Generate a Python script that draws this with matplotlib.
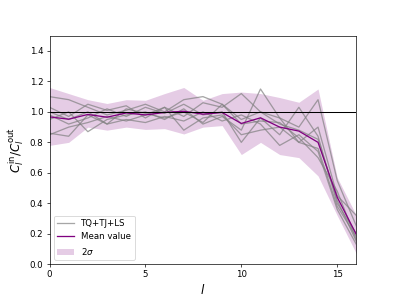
import matplotlib
matplotlib.use("Agg")
import matplotlib.pyplot as plt
import numpy as np

# multipoles
ell = np.arange(17)

# individual realisations (TQ+TJ+LS)
runs = [
    [1.10, 1.08, 1.03, 0.98, 1.01, 1.05, 1.00, 1.08, 1.10, 1.05, 0.95, 1.00, 0.92, 0.88, 0.82, 0.42, 0.15],
    [1.03, 0.97, 1.05, 1.01, 1.04, 0.96, 1.03, 0.97, 1.06, 1.03, 1.12, 1.00, 0.96, 0.90, 1.08, 0.55, 0.25],
    [0.98, 0.92, 0.96, 1.02, 0.97, 1.03, 0.99, 1.05, 0.98, 1.00, 0.80, 0.96, 0.85, 1.03, 0.84, 0.40, 0.20],
    [0.95, 1.00, 0.87, 0.95, 0.98, 1.00, 0.95, 1.02, 0.92, 0.97, 0.88, 1.15, 0.96, 0.80, 0.90, 0.45, 0.32],
    [0.86, 0.84, 0.98, 0.92, 0.95, 0.93, 0.97, 0.94, 1.00, 0.94, 0.98, 0.92, 0.78, 0.85, 0.74, 0.36, 0.13],
    [0.85, 0.90, 0.93, 0.97, 0.94, 0.98, 1.03, 0.88, 0.96, 0.98, 0.85, 0.88, 0.90, 0.80, 0.76, 0.38, 0.18],
    [1.00, 0.95, 1.00, 0.92, 1.02, 0.99, 0.96, 1.00, 0.93, 1.05, 0.92, 0.94, 0.93, 0.83, 0.70, 0.48, 0.16],
]

mean_val = [0.967, 0.952, 0.983, 0.965, 0.993, 0.980, 0.996, 1.004, 0.985, 0.996,
            0.924, 0.961, 0.900, 0.874, 0.800, 0.440, 0.195]
band_hi = [1.16, 1.12, 1.08, 1.055, 1.08, 1.076, 1.12, 1.16, 1.076, 1.12,
           1.13, 1.12, 1.094, 1.063, 1.15, 0.57, 0.32]
band_lo = [0.78, 0.80, 0.90, 0.88, 0.90, 0.885, 0.89, 0.855, 0.90, 0.91,
           0.72, 0.80, 0.72, 0.70, 0.58, 0.32, 0.07]

fig, ax = plt.subplots(figsize=(6.4, 4.8), dpi=61.875)

for i, r in enumerate(runs):
    ax.plot(ell, r, color='gray', alpha=0.7, lw=1.5, label='TQ+TJ+LS' if i == 0 else None)
ax.plot(ell, mean_val, color='purple', lw=1.5, label='Mean value')
ax.fill_between(ell, band_lo, band_hi, color='purple', alpha=0.2, lw=0, label=r'$2\sigma$')
ax.axhline(1.0, color='black', lw=1.2)

ax.set_xlim(0, 16)
ax.set_ylim(0, 1.5)
ax.set_xticks([0, 5, 10, 15])
ax.set_yticks(np.arange(0, 1.41, 0.2))
ax.set_xlabel(r'$l$', fontsize=14)
ax.set_ylabel(r'$C_l^{\rm in}/C_l^{\rm out}$', fontsize=14)
ax.legend(loc='lower left')

fig.savefig('out.png', dpi=61.875)
